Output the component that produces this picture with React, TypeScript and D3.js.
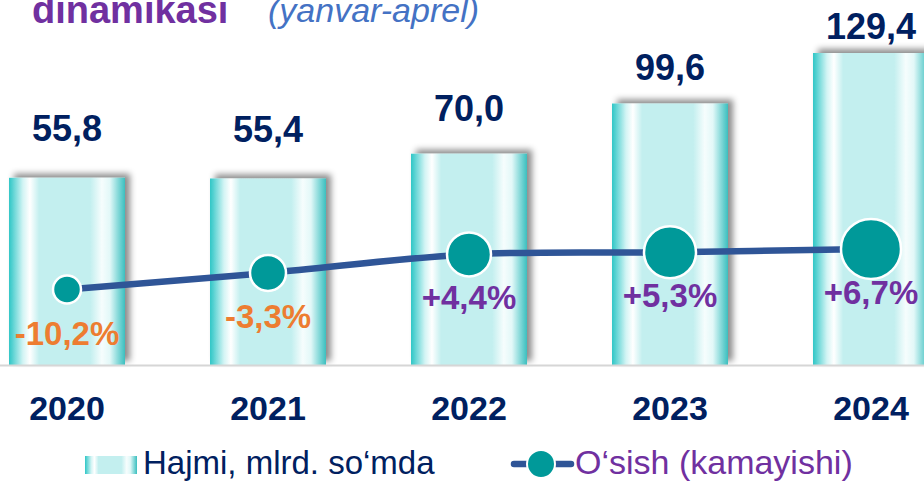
import React from "react";
import * as d3 from "d3";

const years = ["2020", "2021", "2022", "2023", "2024"];
const volumes = [55.8, 55.4, 70.0, 99.6, 129.4];
const growth = [-10.2, -3.3, 4.4, 5.3, 6.7];
const titleMain = "dinamikasi";
const titleSub = "(yanvar-aprel)";
const legendBar = "Hajmi, mlrd. so‘mda";
const legendLine = "O‘sish (kamayishi)";

const W = 924;
const H = 482;
const FONT = "'Liberation Sans', Arial, sans-serif";

const fmt = (v: number) => v.toFixed(1).replace(".", ",");
const fmtPct = (v: number) => (v > 0 ? "+" : "") + fmt(v) + "%";

export default function App() {
  const x = d3
    .scaleBand<string>()
    .domain(years)
    .range([-33.5, 971.5])
    .paddingInner(0.423)
    .paddingOuter(0.2115);
  const yBar = d3.scaleLinear().domain([-54.6, 129.4]).range([365, 53]);
  const yLabel = d3.scaleLinear().domain([50, 130]).range([149, 38.5]);
  const yLine = d3.scaleLinear().domain([-10.2, 6.7]).range([289.5, 248.9]);
  const rScale = d3.scaleLinear().domain([0, years.length - 1]).range([14, 30]);
  const cx = (i: number) => (x(years[i]) as number) + x.bandwidth() / 2;

  const linePath = d3
    .line<number>()
    .x((_, i) => cx(i))
    .y((d) => yLine(d))
    .curve(d3.curveCatmullRom.alpha(0.5))(growth) as string;

  const baseY = yBar(-54.6);

  return (
    <svg
      width={W}
      height={H}
      style={{ position: "absolute", left: 0, top: 0, background: "#fff" }}
      fontFamily={FONT}
    >
      <defs>
        <linearGradient id="barGrad" x1="0" x2="1" y1="0" y2="0">
          <stop offset="0" stopColor="#2fc6c6" />
          <stop offset="0.05" stopColor="#72d9d9" />
          <stop offset="0.12" stopColor="#d2f4f4" />
          <stop offset="0.18" stopColor="#ffffff" />
          <stop offset="0.26" stopColor="#c3efef" />
          <stop offset="0.7" stopColor="#c3efef" />
          <stop offset="0.8" stopColor="#f6fdfd" />
          <stop offset="0.87" stopColor="#e2f8f8" />
          <stop offset="0.94" stopColor="#86d9d9" />
          <stop offset="1" stopColor="#3bbfbf" />
        </linearGradient>
        <filter id="shadow" x="-20%" y="-20%" width="140%" height="140%">
          <feDropShadow dx="5" dy="-4" stdDeviation="3" floodColor="#000" floodOpacity="0.45" />
        </filter>
      </defs>

      {/* title fragment */}
      <text x={32} y={23} fontSize={38} fontWeight="bold" fill="#7030a0">
        {titleMain}
      </text>
      <text x={268} y={22} fontSize={34} fontStyle="italic" fill="#4472c4">
        {titleSub}
      </text>

      {/* bars */}
      {volumes.map((v, i) => (
        <rect
          key={"b" + i}
          x={x(years[i])}
          y={yBar(v)}
          width={x.bandwidth()}
          height={baseY - yBar(v)}
          fill="url(#barGrad)"
          filter="url(#shadow)"
        />
      ))}

      {/* axis line */}
      <line x1={0} x2={W} y1={baseY + 0.5} y2={baseY + 0.5} stroke="#d6d6d6" strokeWidth={2} />

      {/* value labels */}
      {volumes.map((v, i) => (
        <text
          key={"v" + i}
          x={cx(i)}
          y={yLabel(v)}
          textAnchor="middle"
          fontSize={36}
          fontWeight="bold"
          fill="#002060"
        >
          {fmt(v)}
        </text>
      ))}

      {/* growth line */}
      <path d={linePath} fill="none" stroke="#2f5597" strokeWidth={6.5} />
      {growth.map((g, i) => (
        <circle
          key={"c" + i}
          cx={cx(i)}
          cy={yLine(g)}
          r={rScale(i)}
          fill="#009999"
          stroke="#fff"
          strokeWidth={2.5}
        />
      ))}
      {growth.map((g, i) => (
        <text
          key={"p" + i}
          x={cx(i)}
          y={yLine(g) + 55}
          textAnchor="middle"
          fontSize={33}
          fontWeight="bold"
          fill={g < 0 ? "#ed7d31" : "#7030a0"}
        >
          {fmtPct(g)}
        </text>
      ))}

      {/* year labels */}
      {years.map((yr, i) => (
        <text
          key={"y" + i}
          x={cx(i)}
          y={420}
          textAnchor="middle"
          fontSize={34}
          fontWeight="bold"
          fill="#002060"
        >
          {yr}
        </text>
      ))}

      {/* legend */}
      <rect x={85} y={456} width={52} height={18} fill="url(#barGrad)" />
      <text x={143} y={474} fontSize={33} fill="#002060">
        {legendBar}
      </text>
      <line x1={514} x2={571} y1={464} y2={464} stroke="#2f5597" strokeWidth={6.5} strokeLinecap="round" />
      <circle cx={541} cy={464} r={14} fill="#009999" stroke="#fff" strokeWidth={2} />
      <text x={575} y={474} fontSize={34} fill="#7030a0">
        {legendLine}
      </text>
    </svg>
  );
}
